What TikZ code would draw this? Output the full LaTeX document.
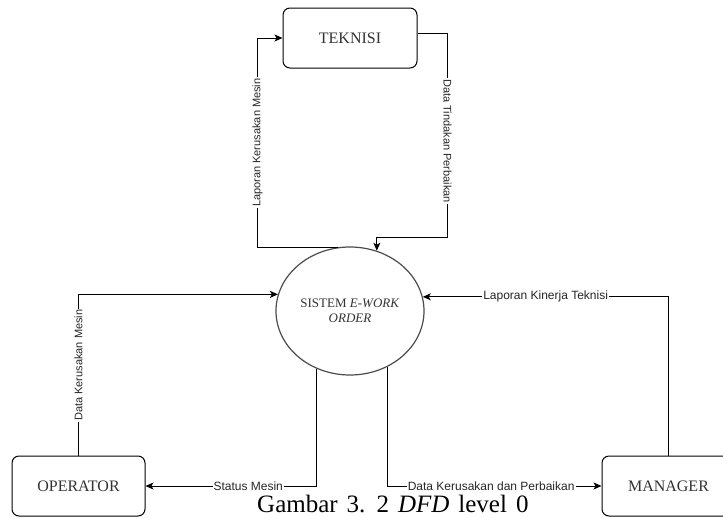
\documentclass[tikz,border=0pt]{standalone}
\usepackage{fontspec}
\setmainfont{Liberation Serif}
\newfontfamily\labelfont{Liberation Sans}
\usetikzlibrary{shapes.geometric,arrows.meta}

\tikzset{
  entity/.style={draw=black, line width=1pt, rounded corners=7pt,
    minimum width=133pt, minimum height=60pt, inner sep=0pt,
    text=black!80, font=\fontsize{16}{19}\selectfont},
  process/.style={ellipse, draw=black!70, line width=1.2pt,
    minimum width=148pt, minimum height=128pt, inner sep=0pt,
    align=center, text=black!80, font=\fontsize{13}{15}\selectfont},
  tip/.tip={Stealth[length=8pt,width=7pt,inset=2pt]},
  flow/.style={draw=black, line width=1pt, -tip},
  flowback/.style={draw=black, line width=1pt, tip-},
  flowlabel/.style={fill=white, inner sep=1pt, text=black!85,
    font=\labelfont\fontsize{12}{14}\selectfont},
  vlabel/.style={flowlabel, font=\labelfont\fontsize{11}{13}\selectfont},
  captionstyle/.style={anchor=base west, inner sep=0pt,
    font=\fontsize{25}{29}\selectfont},
}

\begin{document}
\begin{tikzpicture}[x=1pt,y=-1pt]
  \useasboundingbox (0,0) rectangle (723,517);
  \fill[white] (0,0) rectangle (723,517);
  \clip (0,0) rectangle (723,517);

  % external entities and the central process
  \node[entity, minimum width=134pt] (teknisi) at (350,38) {TEKNISI};
  \node[entity] (operator) at (78.5,486) {OPERATOR};
  \node[entity] (manager) at (668.5,486) {MANAGER};
  \node[process] (sys) at (350,311) {SISTEM \textit{E-WORK}\\\textit{ORDER}};

  % data flows
  \draw[flowback] (teknisi.west) -- ++(-25,0)
    |- node[pos=.25, vlabel, rotate=90] (lkm) {Laporan Kerusakan Mesin} (sys.101.7);

  \draw[flow] ([yshift=5pt]teknisi.east) -- ++(30,0)
    -- node[pos=.53, vlabel, rotate=-90] (dtp) {Data Tindakan Perbaikan} ++(0,204)
    -| (sys.66.5);

  \draw[flow] (operator.north)
    |- node[pos=.28, vlabel, rotate=90] (dkm) {Data Kerusakan Mesin} (sys.167.4);

  \draw[flow] (manager.north)
    |- node[pos=.75, flowlabel] (lkt) {Laporan Kinerja Teknisi} (sys.11);

  \draw[flow] (sys.240)
    |- node[pos=.70, flowlabel] (sm) {Status Mesin} (operator.east);

  \draw[flow] (sys.-56.3)
    |- node[pos=.742, flowlabel] (dkp) {Data Kerusakan dan Perbaikan} (manager.west);

  % caption, set with wide word spaces
  \node[captionstyle] (caption) at (257,512)
    {\spaceskip=9pt\relax Gambar 3. 2 \textit{DFD} level 0};
\end{tikzpicture}
\end{document}
